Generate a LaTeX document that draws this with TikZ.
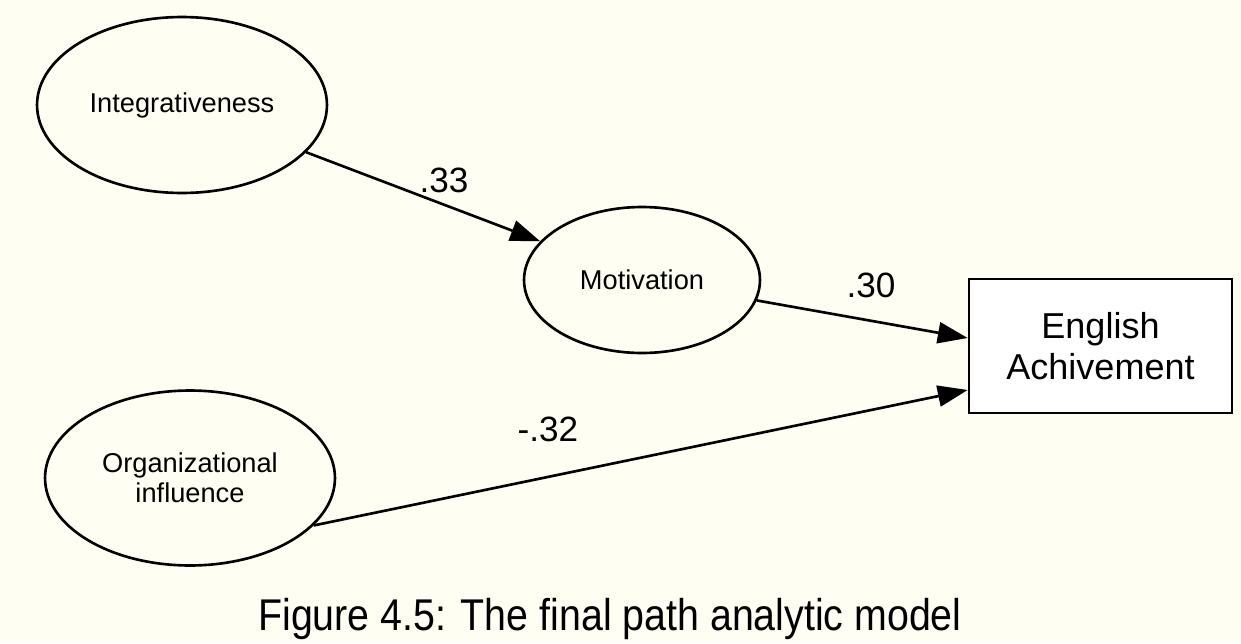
\documentclass[tikz,border=0pt]{standalone}
\usepackage{fontspec}
\setmainfont{Liberation Sans}
\usetikzlibrary{arrows.meta, shapes.geometric}
\definecolor{paper}{RGB}{254,254,242}
\tikzset{
	latent/.style={draw, ellipse, line width=1.5pt, inner sep=0pt, align=center, font=\fontsize{15.5}{17}\selectfont},
	observed/.style={draw, rectangle, fill=white, line width=1.5pt, inner sep=0pt, align=center, font=\fontsize{20.5}{23}\selectfont},
	effect/.style={line width=1.5pt, -{Triangle[length=17pt,width=12pt]}},
	coef/.style={font=\fontsize{20}{22}\selectfont}
}
\begin{document}
\begin{tikzpicture}[x=0.02cm, y=-0.02cm]
		\fill[paper] (0,0) rectangle (1241,643);
		\useasboundingbox (0,0) rectangle (1241,643);
		\node[latent, minimum width=5.8cm, minimum height=3.52cm] (integ) at (182,105) {Integrativeness};
		\node[latent, minimum width=4.72cm, minimum height=2.92cm] (motiv) at (642,280) {Motivation};
		\node[latent, minimum width=5.8cm, minimum height=3.5cm] (organ) at (190,478) {Organizational\\influence};
		\node[observed, minimum width=5.26cm, minimum height=2.68cm] (engl) at (1100.5,346) {English\\Achivement};
		\draw[effect] (integ) -- (motiv);
		\draw[effect] (motiv) -- ([yshift=0.16cm]engl.west);
		\draw[effect] (organ.-21) -- ([yshift=-0.88cm]engl.west);
		\node[coef] (c33) at (444,180) {.33};
		\node[coef] (c30) at (871,285) {.30};
		\node[coef] (c32) at (548,429) {-.32};
		\node[anchor=base, font=\fontsize{25.3}{28}\selectfont] (caption) at (610,630) {\scalebox{0.885}[1]{Figure 4.5: The final path analytic model}};
	\end{tikzpicture}
\end{document}
